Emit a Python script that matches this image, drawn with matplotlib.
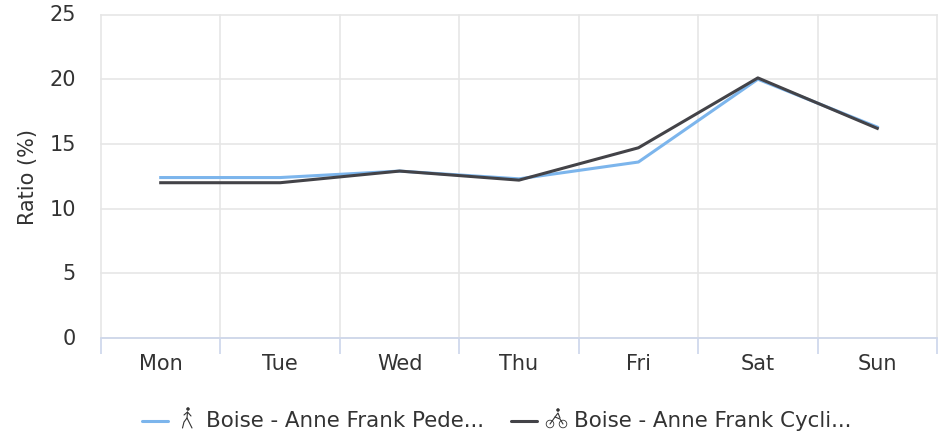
import matplotlib
matplotlib.use("Agg")
import matplotlib.pyplot as plt
from matplotlib.lines import Line2D
from matplotlib.patches import Circle
from matplotlib.transforms import Affine2D, ScaledTranslation

days = ["Mon", "Tue", "Wed", "Thu", "Fri", "Sat", "Sun"]
pedestrian = [12.4, 12.4, 12.9, 12.3, 13.6, 20.0, 16.3]
cyclist = [12.0, 12.0, 12.9, 12.2, 14.7, 20.1, 16.2]
y_ticks = [0, 5, 10, 15, 20, 25]
ped_label = "Boise - Anne Frank Pede..."
cyc_label = "Boise - Anne Frank Cycli..."

BLUE = "#7cb5ec"
DARK = "#434348"
TXT = "#333333"
W, H = 952, 435
FS = 15
plt.rcParams["font.family"] = ["DejaVu Sans"]

fig = plt.figure(figsize=(W / 100, H / 100), dpi=100)
ax = fig.add_axes([101 / W, 1 - 339 / H, 836 / W, 323.5 / H])
ax.set_xlim(-0.5, 6.5)
ax.set_ylim(0, 25)
for s in ax.spines.values():
    s.set_visible(False)
ax.spines["bottom"].set_visible(True)
ax.spines["bottom"].set_color("#ccd6eb")
ax.spines["bottom"].set_linewidth(1.2)

ax.set_yticks(y_ticks)
ax.set_xticks([i - 0.5 for i in range(len(days) + 1)])
ax.set_xticks(range(len(days)), minor=True)
ax.set_xticklabels([])
ax.set_xticklabels(days, minor=True)
ax.tick_params(axis="x", which="major", length=11.5, width=1.2, color="#ccd6eb")
ax.tick_params(axis="x", which="minor", length=0, pad=11, labelsize=FS, labelcolor=TXT)
ax.tick_params(axis="y", length=0, pad=18, labelsize=FS, labelcolor=TXT)
ax.grid(True, which="major", color="#e6e6e6", linewidth=1.2, clip_on=False)
ax.set_axisbelow(True)
ax.set_ylabel("Ratio (%)", fontsize=FS, color=TXT)
ax.yaxis.set_label_coords((38 - 101) / 836, 0.5)

shift = ScaledTranslation(0, 1.5 / 72, fig.dpi_scale_trans)
for lab in ax.get_yticklabels():
    lab.set_transform(lab.get_transform() + shift)

ax.plot(range(7), pedestrian, color=BLUE, lw=2.2, solid_joinstyle="round")
ax.plot(range(7), cyclist, color=DARK, lw=2.2, solid_joinstyle="round")

# Legend, placed in reference pixel coordinates
px = Affine2D().scale(1 / W, -1 / H).translate(0, 1) + fig.transFigure


def seg(xs, ys, color=TXT, lw=0.8):
    fig.add_artist(Line2D(xs, ys, transform=px, color=color, lw=lw, solid_capstyle="round"))


def ring(x, y, r, filled=False):
    fig.add_artist(Circle((x, y), r, transform=px, fc=TXT if filled else "none", ec=TXT, lw=0.6))


seg([142, 168], [421.5, 421.5], BLUE, 2.2)
seg([511, 537], [421.5, 421.5], DARK, 2.2)

# Pedestrian icon
ring(188, 410, 1.3, True)
seg([187.5, 187, 184, 182.5], [413, 419, 423, 429])
seg([187, 189, 192], [419, 423, 429])
seg([184, 187.5, 191], [416, 413, 417])

# Cyclist icon
ring(550, 425, 3.8)
ring(563, 425, 3.8)
ring(558, 411, 1.3, True)
seg([550, 555, 560, 563], [425, 418, 420, 425])
seg([555, 558, 560], [418, 414, 419])

fig.text(206 / W, 1 - 421 / H, ped_label, fontsize=15.4, color=TXT, va="center", ha="left")
fig.text(574 / W, 1 - 421 / H, cyc_label, fontsize=15.4, color=TXT, va="center", ha="left")

fig.savefig("out.png", dpi=100)
